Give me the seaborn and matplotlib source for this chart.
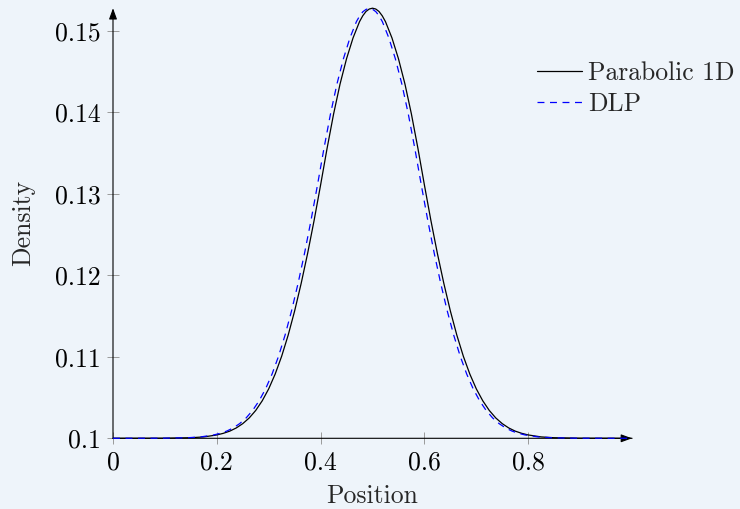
import matplotlib
matplotlib.use("Agg")
import matplotlib.pyplot as plt
import seaborn as sns

# ---- data ----
position = [0.0, 0.1, 0.15, 0.175,
            0.2, 0.2125, 0.225, 0.2375, 0.25, 0.2625, 0.275, 0.2875, 0.3, 0.3125,
            0.325, 0.3375, 0.35, 0.3625, 0.375, 0.3875, 0.4, 0.4125, 0.425, 0.4375,
            0.45, 0.4625, 0.475, 0.48125, 0.4875, 0.49375, 0.5, 0.50625, 0.5125, 0.51875,
            0.525, 0.5375, 0.55, 0.5625,
            0.575, 0.5875, 0.6, 0.6125, 0.625, 0.6375, 0.65, 0.6625, 0.675, 0.6875,
            0.7, 0.7125, 0.725, 0.7375, 0.75, 0.7625, 0.775, 0.7875, 0.8,
            0.825, 0.85, 0.9, 1.0]
parabolic = [0.10000, 0.10001, 0.10007, 0.10017,
             0.10041, 0.10061, 0.10088, 0.10127, 0.10180, 0.10250, 0.10342, 0.10460, 0.10607, 0.10789,
             0.11008, 0.11266, 0.11564, 0.11900, 0.12270, 0.12675, 0.13110, 0.13560, 0.13980, 0.14350,
             0.14660, 0.14915, 0.15115, 0.15187, 0.15240, 0.15270, 0.15280, 0.15270, 0.15240, 0.15187,
             0.15115, 0.14915, 0.14660, 0.14350,
             0.13980, 0.13560, 0.13110, 0.12675, 0.12270, 0.11900, 0.11564, 0.11266, 0.11008, 0.10789,
             0.10607, 0.10460, 0.10342, 0.10250, 0.10180, 0.10127, 0.10088, 0.10061, 0.10041,
             0.10017, 0.10007, 0.10001, 0.10000]

dlp_position = [0.0, 0.094, 0.144, 0.169,
                0.194, 0.2065, 0.219, 0.2315, 0.244, 0.2565, 0.269, 0.2815, 0.294, 0.3065,
                0.319, 0.3315, 0.344, 0.3565, 0.369, 0.3815, 0.394, 0.4065, 0.419, 0.4315,
                0.444, 0.4565, 0.469, 0.47525, 0.4815, 0.48775, 0.494, 0.50025, 0.5065, 0.51275,
                0.519, 0.5315, 0.544, 0.5565,
                0.569, 0.5815, 0.594, 0.6065, 0.619, 0.6315, 0.644, 0.6565, 0.669, 0.6815,
                0.694, 0.7065, 0.719, 0.7315, 0.744, 0.7565, 0.769, 0.7815, 0.794,
                0.819, 0.844, 0.894, 1.0]
dlp = [0.10000, 0.10001, 0.10007, 0.10017,
       0.10041, 0.10061, 0.10088, 0.10127, 0.10180, 0.10250, 0.10342, 0.10460, 0.10607, 0.10789,
       0.11008, 0.11266, 0.11564, 0.11900, 0.12270, 0.12675, 0.13110, 0.13560, 0.13980, 0.14350,
       0.14660, 0.14915, 0.15115, 0.15185, 0.15237, 0.15266, 0.15276, 0.15266, 0.15237, 0.15185,
       0.15115, 0.14915, 0.14660, 0.14350,
       0.13980, 0.13560, 0.13110, 0.12675, 0.12270, 0.11900, 0.11564, 0.11266, 0.11008, 0.10789,
       0.10607, 0.10460, 0.10342, 0.10250, 0.10180, 0.10127, 0.10088, 0.10061, 0.10041,
       0.10017, 0.10007, 0.10001, 0.10000]

x_ticks = [0, 0.2, 0.4, 0.6, 0.8]
x_tick_labels = ["0", "0.2", "0.4", "0.6", "0.8"]
y_ticks = [0.10, 0.11, 0.12, 0.13, 0.14, 0.15]
y_tick_labels = ["0.1", "0.11", "0.12", "0.13", "0.14", "0.15"]

series_labels = ["Parabolic 1D", "DLP"]

# ---- style ----
sns.set_style("white")
plt.rcParams["font.family"] = ["cmr10", "DejaVu Serif"]
plt.rcParams["mathtext.fontset"] = "cm"
plt.rcParams["axes.formatter.use_mathtext"] = True
plt.rcParams["lines.scale_dashes"] = False

bg = "#EEF4FA"
FS = 18.5

fig = plt.figure(figsize=(7.4, 5.09), dpi=100, facecolor=bg)
ax = fig.add_axes([113 / 740, (509 - 438.3) / 509, 519 / 740, (438.3 - 8.2) / 509])
ax.set_facecolor(bg)

sns.lineplot(x=position, y=parabolic, ax=ax, color="black", lw=0.9,
             label=series_labels[0], clip_on=False, zorder=3)
sns.lineplot(x=dlp_position, y=dlp, ax=ax, color="blue", lw=0.9,
             linestyle=(0, (5, 4)), label=series_labels[1], clip_on=False, zorder=4)

ax.set_xlim(0, 1.0)
ax.set_ylim(0.1, 0.1528)
for s in ax.spines.values():
    s.set_visible(False)

arrow_kw = dict(arrowstyle="-|>,head_length=0.33,head_width=0.12", color="black",
                lw=0.8, shrinkA=0, shrinkB=0, mutation_scale=20)
ax.annotate("", xy=(1, 0), xytext=(0, 0), xycoords="axes fraction",
            arrowprops=arrow_kw, annotation_clip=False, zorder=2)
ax.annotate("", xy=(0, 1), xytext=(0, 0), xycoords="axes fraction",
            arrowprops=arrow_kw, annotation_clip=False, zorder=2)

ax.set_xticks(x_ticks, x_tick_labels)
ax.set_yticks(y_ticks, y_tick_labels)
ax.tick_params(direction="inout", length=8, width=0.6, color="#8c8c8c",
               labelsize=FS, pad=5, bottom=True, left=True, labelcolor="black")

ax.set_xlabel("Position", fontsize=FS, labelpad=7)
ax.set_ylabel("Density", fontsize=FS, labelpad=14)

ax.legend(loc="upper left", bbox_to_anchor=(537 / 740, 1 - 61 / 509),
          bbox_transform=fig.transFigure, frameon=False, handlelength=1.75,
          handletextpad=0.25, borderpad=0, borderaxespad=0, labelspacing=0.3,
          fontsize=FS)

fig.savefig("out.png", dpi=100, facecolor=bg)
